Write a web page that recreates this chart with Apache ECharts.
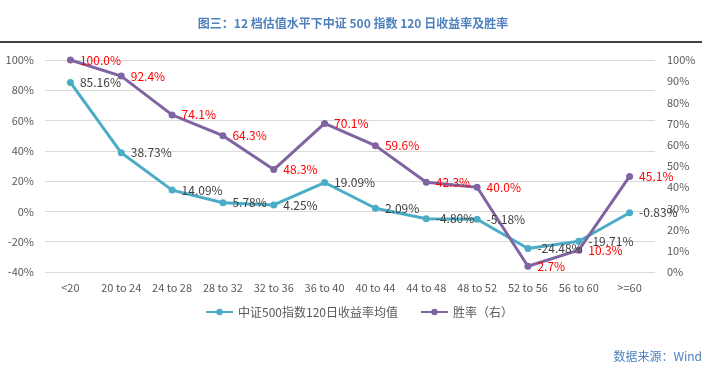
<!DOCTYPE html>
<html><head><meta charset="utf-8">
<script src="https://cdn.jsdelivr.net/npm/echarts@6/dist/echarts.min.js"></script>
<style>html,body{margin:0;padding:0;background:#fff}#c{width:706px;height:369px}</style>
</head><body><div id="c"></div>
<script>
var categories = ['<20','20 to 24','24 to 28','28 to 32','32 to 36','36 to 40','40 to 44','44 to 48','48 to 52','52 to 56','56 to 60','>=60'];
var returnMean = [85.16, 38.73, 14.09, 5.78, 4.25, 19.09, 2.09, -4.80, -5.18, -24.48, -19.71, -0.83];
var winRate = [100.0, 92.4, 74.1, 64.3, 48.3, 70.1, 59.6, 42.3, 40.0, 2.7, 10.3, 45.1];
var leftTicks = {min: -40, max: 100, interval: 20};
var rightTicks = {min: 0, max: 100, interval: 10};

var font = '"Microsoft YaHei","Noto Sans CJK SC",sans-serif';
var chart = echarts.init(document.getElementById('c'));
chart.setOption({
  animation: false,
  textStyle: {fontFamily: font},
  title: {
    text: '图三：12 档估值水平下中证 500 指数 120 日收益率及胜率',
    left: 'center', top: 12,
    textStyle: {color: '#4F81BD', fontSize: 12, fontWeight: 'bold', fontFamily: font}
  },
  graphic: [
    {type: 'line', shape: {x1: 0, y1: 42, x2: 702, y2: 42}, style: {stroke: '#000', lineWidth: 1.5}},
    {type: 'text', right: 4, top: 350, style: {text: '数据来源：Wind', fill: '#4F81BD', font: '12px ' + font}}
  ],
  legend: {
    left: 205, top: 306, padding: 0, itemGap: 22, itemWidth: 27, itemHeight: 8,
    textStyle: {color: '#595959', fontSize: 12, fontFamily: font},
    data: ['中证500指数120日收益率均值', '胜率（右）']
  },
  grid: {left: 45, right: 51, top: 60, bottom: 97},
  xAxis: {
    type: 'category', data: categories,
    axisLine: {show: false}, axisTick: {show: false},
    axisLabel: {color: '#595959', fontSize: 11, margin: 10, interval: 0}
  },
  yAxis: [
    {type: 'value', min: leftTicks.min, max: leftTicks.max, interval: leftTicks.interval,
     axisLine: {show: false}, axisTick: {show: false},
     axisLabel: {color: '#595959', fontSize: 11, margin: 11, formatter: '{value}%'},
     splitLine: {lineStyle: {color: '#d9d9d9', width: 1}}},
    {type: 'value', min: rightTicks.min, max: rightTicks.max, interval: rightTicks.interval,
     axisLine: {show: false}, axisTick: {show: false},
     axisLabel: {color: '#595959', fontSize: 11, margin: 12, formatter: '{value}%'},
     splitLine: {show: false}}
  ],
  series: [
    {name: '中证500指数120日收益率均值', type: 'line', yAxisIndex: 0, data: returnMean,
     symbol: 'circle', symbolSize: 7, color: '#4BACC6',
     lineStyle: {width: 3, color: '#4BACC6'}, itemStyle: {color: '#4BACC6'},
     label: {show: true, position: 'right', distance: 6, color: '#404040', fontSize: 12,
       formatter: function(p){return p.value.toFixed(2) + '%';}}},
    {name: '胜率（右）', type: 'line', yAxisIndex: 1, data: winRate,
     symbol: 'circle', symbolSize: 7, color: '#8064A2',
     lineStyle: {width: 3, color: '#8064A2'}, itemStyle: {color: '#8064A2'},
     label: {show: true, position: 'right', distance: 6, color: '#FF0000', fontSize: 12,
       formatter: function(p){return p.value.toFixed(1) + '%';}}}
  ]
});
</script></body></html>
